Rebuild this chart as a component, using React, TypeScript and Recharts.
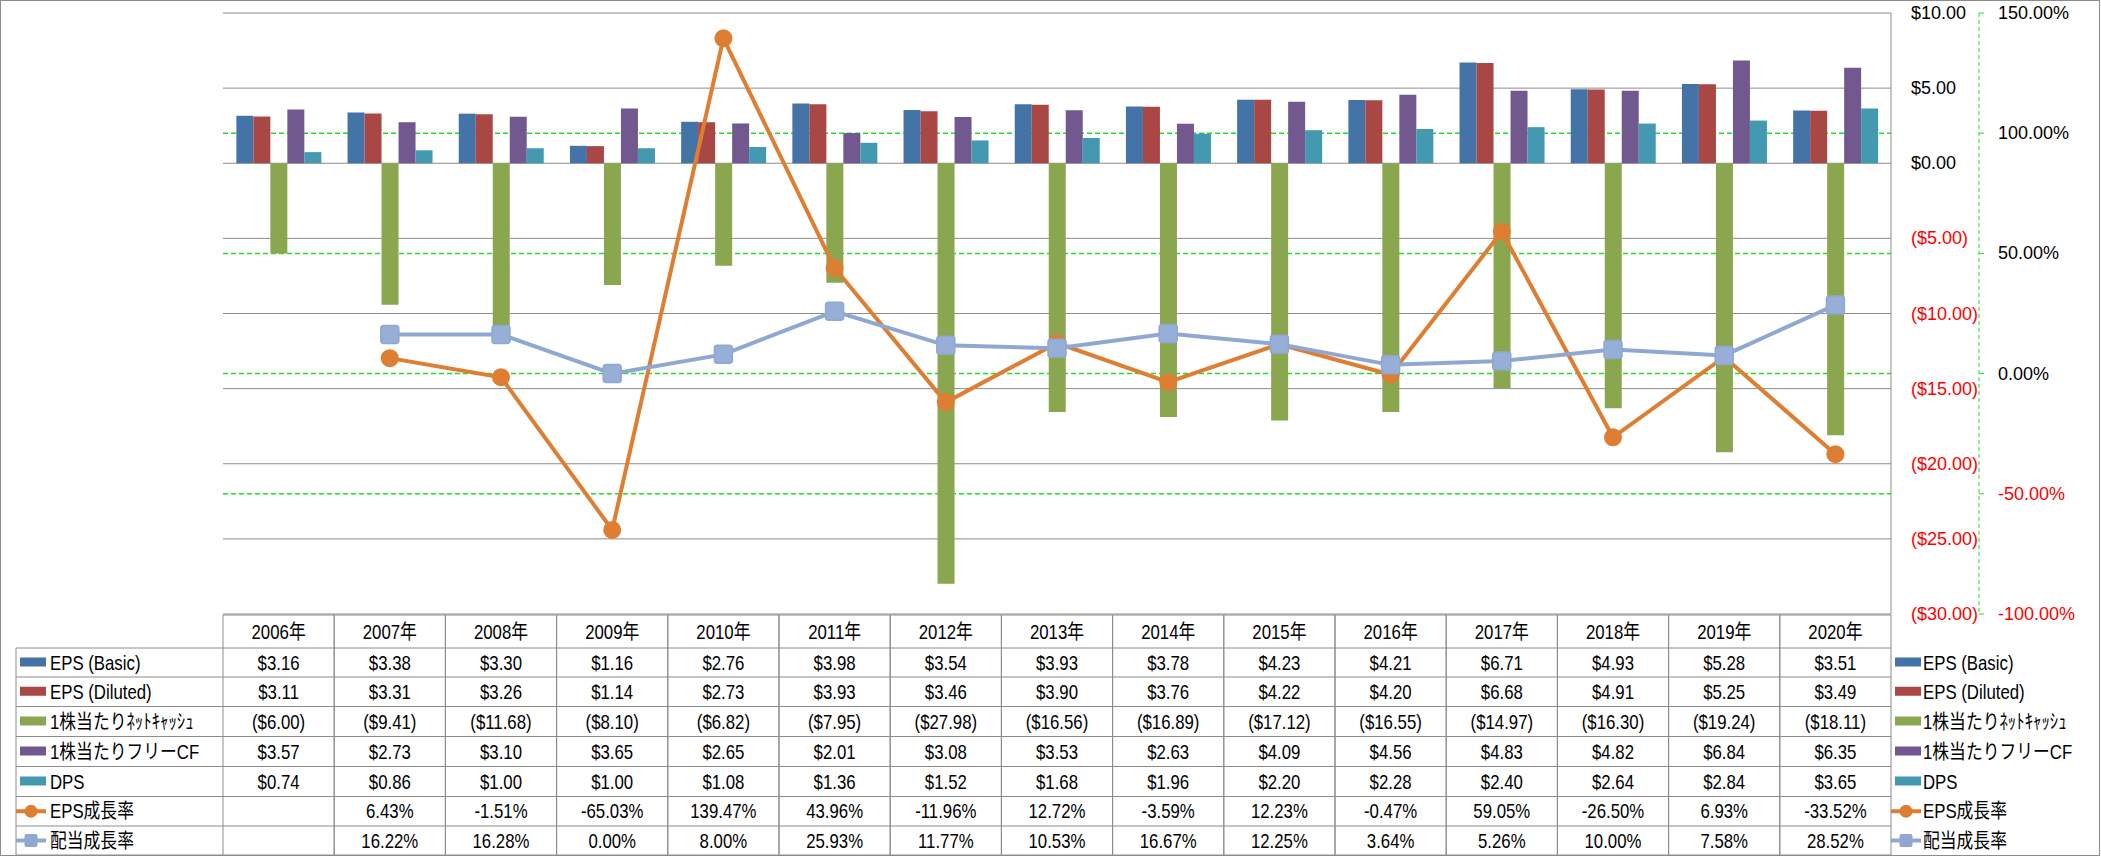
import React from "react";
import { ComposedChart, Bar, Line, XAxis, YAxis, CartesianGrid } from "recharts";

const years = ["2006年", "2007年", "2008年", "2009年", "2010年", "2011年", "2012年", "2013年", "2014年", "2015年", "2016年", "2017年", "2018年", "2019年", "2020年"];
const epsBasic = [3.16, 3.38, 3.3, 1.16, 2.76, 3.98, 3.54, 3.93, 3.78, 4.23, 4.21, 6.71, 4.93, 5.28, 3.51];
const epsDiluted = [3.11, 3.31, 3.26, 1.14, 2.73, 3.93, 3.46, 3.9, 3.76, 4.22, 4.2, 6.68, 4.91, 5.25, 3.49];
const netCashPerShare = [-6.0, -9.41, -11.68, -8.1, -6.82, -7.95, -27.98, -16.56, -16.89, -17.12, -16.55, -14.97, -16.3, -19.24, -18.11];
const fcfPerShare = [3.57, 2.73, 3.1, 3.65, 2.65, 2.01, 3.08, 3.53, 2.63, 4.09, 4.56, 4.83, 4.82, 6.84, 6.35];
const dps = [0.74, 0.86, 1.0, 1.0, 1.08, 1.36, 1.52, 1.68, 1.96, 2.2, 2.28, 2.4, 2.64, 2.84, 3.65];
const epsGrowth = [null, 6.43, -1.51, -65.03, 139.47, 43.96, -11.96, 12.72, -3.59, 12.23, -0.47, 59.05, -26.5, 6.93, -33.52];
const divGrowth = [null, 16.22, 16.28, 0.0, 8.0, 25.93, 11.77, 10.53, 16.67, 12.25, 3.64, 5.26, 10.0, 7.58, 28.52];

const usdTicks = [10, 5, 0, -5, -10, -15, -20, -25, -30];
const pctTicks = [150, 100, 50, 0, -50, -100];
const pctGrid = [100, 50, 0, -50];

// layout (px)
const W = 2101;
const H = 858;
const PLOT_L = 223;
const PLOT_R = 1891;
const PLOT_T = 13;
const PLOT_B = 614;
const USD_AXIS_W = 88;
const COL_W = (PLOT_R - PLOT_L) / years.length;
const ROW_Y = [615, 648, 677, 706.5, 736.5, 766.5, 796.5, 826, 855];
const LINE_GRAY = "#8c8c8c";
const GREEN = "#22dd22";
const FONT = "'Liberation Sans', 'Noto Sans CJK JP', sans-serif";

const usd = (v: number) => (v < 0 ? `($${Math.abs(v).toFixed(2)})` : `$${v.toFixed(2)}`);
const pct = (v: number | null) => (v == null ? "" : `${v.toFixed(2)}%`);

const series = [
  { key: "epsBasic", name: "EPS (Basic)", color: "#4473a8", kind: "bar", values: epsBasic, fmt: usd },
  { key: "epsDiluted", name: "EPS (Diluted)", color: "#a94744", kind: "bar", values: epsDiluted, fmt: usd },
  { key: "netCash", name: "1株当たりﾈｯﾄｷｬｯｼｭ", color: "#8aa64f", kind: "bar", values: netCashPerShare, fmt: usd },
  { key: "fcf", name: "1株当たりフリーCF", color: "#71598f", kind: "bar", values: fcfPerShare, fmt: usd },
  { key: "dps", name: "DPS", color: "#4399b0", kind: "bar", values: dps, fmt: usd },
  { key: "epsGrowth", name: "EPS成長率", color: "#de7e32", kind: "circle", values: epsGrowth, fmt: pct },
  { key: "divGrowth", name: "配当成長率", color: "#8ea8d2", kind: "square", values: divGrowth, fmt: pct },
];

const data = years.map((year, i) => {
  const row: Record<string, any> = { year };
  series.forEach((s) => (row[s.key] = s.values[i]));
  return row;
});

const rowMid = (r: number) => (ROW_Y[r] + ROW_Y[r + 1]) / 2;

// condensed-looking text (Excel table font is narrow)
const NarrowText = ({ x, y, anchor = "middle", children }: { x: number; y: number; anchor?: string; children: any }) => (
  <g transform={`translate(${x},${y}) scale(0.84,1)`}>
    <text x={0} y={0} dy={7} textAnchor={anchor} fontSize={20} fontFamily={FONT} fill="#000">
      {children}
    </text>
  </g>
);

const UsdTick = (props: any) => {
  const { x, y, payload } = props;
  const v = payload.value;
  return (
    <text x={x} y={y} dy={6} textAnchor="start" fontSize={18} fontFamily={FONT} fill={v < 0 ? "#ff0000" : "#000"}>
      {usd(v)}
    </text>
  );
};

const PctTick = (props: any) => {
  const { x, y, payload } = props;
  const v = payload.value;
  return (
    <text x={x} y={y} dy={6} textAnchor="start" fontSize={18} fontFamily={FONT} fill={v < 0 ? "#ff0000" : "#000"}>
      {pct(v)}
    </text>
  );
};

// data table under the plot, one column per category
const TableTick = (props: any) => {
  const { x, payload } = props;
  const i = payload.index;
  const left = x - COL_W / 2;
  return (
    <g>
      <line x1={left} x2={left} y1={ROW_Y[0]} y2={ROW_Y[8]} stroke={LINE_GRAY} />
      <line x1={left + COL_W} x2={left + COL_W} y1={ROW_Y[0]} y2={ROW_Y[8]} stroke={LINE_GRAY} />
      <NarrowText x={x} y={rowMid(0)}>{years[i]}</NarrowText>
      {series.map((s, r) => (
        <NarrowText key={s.key} x={x} y={rowMid(r + 1)}>
          {s.fmt(s.values[i] as any)}
        </NarrowText>
      ))}
    </g>
  );
};

const LegendKey = ({ s, x, y }: { s: (typeof series)[number]; x: number; y: number }) => {
  if (s.kind === "bar") return <rect x={x} y={y - 5} width={26} height={9} fill={s.color} />;
  return (
    <g>
      <line x1={x - 4} x2={x + 26} y1={y} y2={y} stroke={s.color} strokeWidth={4} />
      {s.kind === "circle" ? (
        <circle cx={x + 11} cy={y} r={6.5} fill={s.color} />
      ) : (
        <rect x={x + 4.5} y={y - 6.5} width={13} height={13} rx={2} fill={s.color} />
      )}
    </g>
  );
};

const Overlay = () => (
  <svg width={W} height={H} style={{ position: "absolute", left: 0, top: 0, pointerEvents: "none" }}>
    <rect x={0.5} y={0.5} width={W - 2} height={H - 3} fill="none" stroke={LINE_GRAY} />
    <line x1={PLOT_L} x2={PLOT_R} y1={ROW_Y[0]} y2={ROW_Y[0]} stroke={LINE_GRAY} />
    {ROW_Y.slice(1).map((y) => (
      <line key={y} x1={16} x2={PLOT_R} y1={y} y2={y} stroke={LINE_GRAY} />
    ))}
    <line x1={16} x2={16} y1={ROW_Y[1]} y2={ROW_Y[8]} stroke={LINE_GRAY} />
    {series.map((s, r) => (
      <g key={s.key}>
        <LegendKey s={s} x={20} y={rowMid(r + 1)} />
        <NarrowText x={50} y={rowMid(r + 1)} anchor="start">
          {s.name}
        </NarrowText>
        <LegendKey s={s} x={1895} y={rowMid(r + 1)} />
        <NarrowText x={1923} y={rowMid(r + 1)} anchor="start">
          {s.name}
        </NarrowText>
      </g>
    ))}
  </svg>
);

const CircleDot = (p: any) => {
  if (p.value == null || p.cy == null) return <g key={p.index} />;
  return <circle key={p.index} cx={p.cx} cy={p.cy} r={9} fill="#de7e32" />;
};

const SquareDot = (p: any) => {
  if (p.value == null || p.cy == null) return <g key={p.index} />;
  return <rect key={p.index} x={p.cx - 9} y={p.cy - 9} width={18} height={18} rx={3} fill="#97afd6" stroke="#8ea8d2" strokeWidth={1.5} />;
};

export default function App() {
  return (
    <div style={{ position: "absolute", left: 0, top: 0, width: W, height: H, background: "#fff" }}>
      <ComposedChart
        width={W}
        height={H}
        data={data}
        margin={{ top: PLOT_T, left: PLOT_L, right: 0, bottom: 0 }}
        barCategoryGap="12%"
        barGap={0}
      >
        <CartesianGrid yAxisId="a" vertical={false} stroke={LINE_GRAY} />
        <CartesianGrid yAxisId="b" vertical={false} horizontalValues={pctGrid} stroke={GREEN} strokeDasharray="5 3" strokeWidth={1.5} />
        <XAxis
          dataKey="year"
          height={H - PLOT_B}
          axisLine={false}
          tickLine={false}
          tickSize={0}
          tickMargin={0}
          interval={0}
          tick={<TableTick />}
        />
        <YAxis
          yAxisId="b"
          orientation="right"
          width={W - PLOT_R - USD_AXIS_W}
          domain={[-100, 150]}
          ticks={pctTicks}
          interval={0}
          axisLine={{ stroke: GREEN, strokeDasharray: "4 3" }}
          tickLine={{ stroke: GREEN }}
          tickSize={5}
          tickMargin={14}
          tick={<PctTick />}
        />
        <YAxis
          yAxisId="a"
          orientation="right"
          width={USD_AXIS_W}
          domain={[-30, 10]}
          ticks={usdTicks}
          interval={0}
          axisLine={{ stroke: LINE_GRAY }}
          tickLine={false}
          tickSize={0}
          tickMargin={20}
          tick={<UsdTick />}
        />
        {series
          .filter((s) => s.kind === "bar")
          .map((s) => (
            <Bar key={s.key} yAxisId="a" dataKey={s.key} name={s.name} fill={s.color} isAnimationActive={false} />
          ))}
        <Line
          yAxisId="b"
          dataKey="epsGrowth"
          name="EPS成長率"
          stroke="#de7e32"
          strokeWidth={4}
          dot={CircleDot}
          activeDot={false}
          isAnimationActive={false}
        />
        <Line
          yAxisId="b"
          dataKey="divGrowth"
          name="配当成長率"
          stroke="#8ea8d2"
          strokeWidth={4}
          dot={SquareDot}
          activeDot={false}
          isAnimationActive={false}
        />
      </ComposedChart>
      <Overlay />
    </div>
  );
}
